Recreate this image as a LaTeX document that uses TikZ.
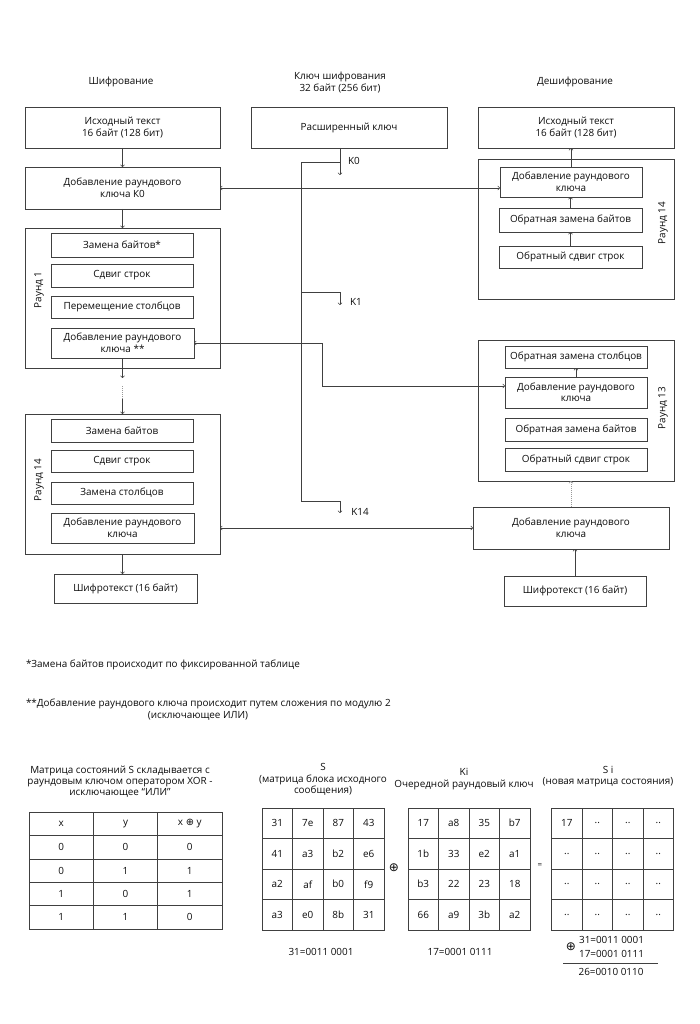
\documentclass[tikz,border=0pt]{standalone}
\usepackage{fontspec}
\setmainfont{Open Sans}
\newfontfamily\symf{DejaVu Sans}
\newcommand\oplusS{{\symf ⊕}}
\usetikzlibrary{arrows.meta,calc}
\begin{document}
\begin{tikzpicture}[x=1pt,y=-1pt,
  every node/.style={font=\fontsize{9.9}{11.5}\selectfont, text=black!95, inner sep=0pt, outer sep=0pt},
  box/.style={draw=black!75, line width=0.6pt, align=center},
  wh/.style 2 args={minimum width=#1pt, minimum height=#2pt},
  ln/.style={draw=black!75, line width=0.6pt},
  arr/.style={ln, -{To[length=2.5pt,width=4.5pt]}},
  darr/.style={ln, {To[length=2.5pt,width=4.5pt]}-{To[length=2.5pt,width=4.5pt]}},
  dots/.style={draw=black!40, line width=0.6pt, dash pattern=on 1pt off 1pt},
  tcell/.style={draw=black!75, line width=0.6pt, minimum width=64.3pt, minimum height=23.4pt},
  mcell/.style={draw=black!75, line width=0.6pt, minimum width=30.5pt, minimum height=30.5pt},
  rlab/.style={rotate=90}
]
\useasboundingbox (0,0) rectangle (699,1024);
\fill[white] (0,0) rectangle (699,1024);

% titles
\node (tEnc) at (121,82) {Шифрование};
\node[align=center] (tKey) at (340,82.5) {Ключ шифрования\\32 байт (256 бит)};
\node (tDec) at (575,82) {Дешифрование};

% ---------- encryption ----------
\node[box, wh={195}{41}] (src) at (122.5,127.5) {Исходный текст\\16 байт (128 бит)};
\node[box, wh={195}{42}] (addk0) at (122.5,188) {Добавление раундового\\ключа К0};
\node[box, wh={195}{140}] (r1) at (122.5,298) {};
\node[box, wh={142}{24}] (r1a) at (122,245) {Замена байтов*};
\node[box, wh={142}{23}] (r1b) at (122,275.5) {Сдвиг строк};
\node[box, wh={142}{22}] (r1c) at (122,307) {Перемещение столбцов};
\node[box, wh={143}{30}] (r1d) at (122.5,343) {Добавление раундового\\ключа **};
\node[rlab] (r1l) at (39,290) {Раунд 1};

\draw[arr] (src.south) -- (addk0.north);
\draw[arr] (addk0.south) -- (r1.north);
\coordinate (g1) at (122.5,378);
\coordinate (g2) at (122.5,386);
\coordinate (g3) at (122.5,399);
\draw[arr] (r1d.south) -- (g1);
\draw[dots] (g2) -- (g3);

\node[box, wh={195}{140}] (r14) at (122.5,484) {};
\node[box, wh={142}{23}] (r14a) at (122,430.5) {Замена байтов};
\node[box, wh={142}{22}] (r14b) at (122,461) {Сдвиг строк};
\node[box, wh={142}{22}] (r14c) at (122,493) {Замена столбцов};
\node[box, wh={143}{30}] (r14d) at (122.5,528) {Добавление раундового\\ключа};
\node[rlab] (r14l) at (39,480) {Раунд 14};
\draw[arr] (g3) -- (r14.north);

\node[box, wh={143}{29}] (cL) at (125.5,588.5) {Шифротекст (16 байт)};
\draw[arr] (r14.south) -- (r14.south |- cL.north);

% ---------- key ----------
\node[box, wh={196}{41}] (key) at (349,127.5) {Расширенный ключ};
\coordinate (k0s) at (340,148);
\coordinate (k0e) at (340,175);
\coordinate (kj) at (340,162);
\coordinate (kc) at (301,162);
\coordinate (k1s) at (301,292);
\coordinate (k1e) at (340,305);
\coordinate (k14s) at (301,501);
\coordinate (k14e) at (340,513);
\draw[arr] (k0s) -- (k0e);
\draw[arr] (kj) -- (kc) -- (k14s) -| (k14e);
\draw[arr] (k1s) -| (k1e);
\node (lk0) at (354,161) {K0};
\node (lk1) at (356,302) {K1};
\node (lk14) at (360,512) {K14};

% ---------- decryption ----------
\node[box, wh={196}{41}] (dsrc) at (576,127.5) {Исходный текст\\ 16 байт (128 бит)};
\node[box, wh={196}{140}] (d14) at (576,229) {};
\node[box, wh={142}{30}] (d14a) at (571,182) {Добавление раундового\\ключа};
\node[box, wh={143}{24}] (d14b) at (570.5,220) {Обратная замена байтов};
\node[box, wh={143}{22}] (d14c) at (570.5,257) {Обратный сдвиг строк};
\node[rlab] (d14l) at (663,223) {Раунд 14};
\draw[arr] (d14c.north) -- (d14c.north |- d14b.south);
\draw[arr] (d14b.north) -- (d14b.north |- d14a.south);
\draw[arr] (d14a.north) -- (d14a.north |- dsrc.south);

\node[box, wh={196}{141}] (d13) at (576,410.5) {};
\node[box, wh={142}{22}] (d13a) at (576,357) {Обратная замена столбцов};
\node[box, wh={142}{31}] (d13b) at (576,392.5) {Добавление раундового\\ключа};
\node[box, wh={142}{23}] (d13c) at (576,429.5) {Обратная замена байтов};
\node[box, wh={142}{23}] (d13d) at (576,459.5) {Обратный сдвиг строк};
\node[rlab] (d13l) at (663,408) {Раунд 13};
\draw[arr] (d13b.north) -- (d13a.south);

\node[box, wh={196}{42}] (decadd) at (571,528) {Добавление раундового\\ключа};
\draw[dots, -{To[length=2.5pt,width=4.5pt]}] (decadd.north) -- (decadd.north |- d13.south);
\node[box, wh={142}{30}] (cR) at (575,591) {Шифротекст (16 байт)};
\draw[arr] (cR.north) -- (cR.north |- decadd.south);

% ---------- cross connectors ----------
\draw[darr] (addk0.east) -- (addk0.east -| d14a.west);
\coordinate (m1) at (322,343);
\coordinate (m2) at (322,386);
\draw[darr] (r1d.east) -- (m1) -- (m2) -- (m2 -| d13b.west);
\draw[darr] (r14.east |- decadd.west) -- (decadd.west);

% ---------- footnotes ----------
\node[anchor=west] (fn1) at (26,665) {*Замена байтов происходит по фиксированной таблице};
\node[anchor=west] (fn2) at (26,704) {**Добавление раундового ключа происходит путем сложения по модулю 2};
\node (fn3) at (198,716) {(исключающее ИЛИ)};

% ---------- XOR table ----------
\node[align=center, font=\fontsize{9.9}{11}\selectfont] (capX) at (120,782) {Матрица состояний S складывается с\\раундовым ключом оператором XOR -\\исключающее “ИЛИ”};
\foreach \r/\a/\b/\c in {0/x/y/x \oplusS{} y, 1/0/0/0, 2/0/1/1, 3/1/0/1, 4/1/1/0} {
  \node[tcell] (xt-\r-1) at (61.2,{823.7+\r*23.4}) {\a};
  \node[tcell] (xt-\r-2) at (125.5,{823.7+\r*23.4}) {\b};
  \node[tcell] (xt-\r-3) at (189.8,{823.7+\r*23.4}) {\c};
}

% ---------- matrices ----------
\node[align=center] (capS) at (323,779.5) {S\\(матрица блока исходного\\сообщения)};
\node[align=center] (capK) at (464,779) {Ki\\Очередной раундовый ключ};
\node[align=center] (capSi) at (608,776.5) {S i\\(новая матрица состояния)};

\foreach \r/\row in {1/{31,7e,87,43}, 2/{41,a3,b2,e6}, 3/{a2,af,b0,f9}, 4/{a3,e0,8b,31}} {
  \foreach \v [count=\c] in \row {
    \node[mcell] (s-\r-\c) at ({262+30.5*(\c-0.5)},{808+30.5*(\r-0.5)}) {\v};
  }
}
\foreach \r/\row in {1/{17,a8,35,b7}, 2/{1b,33,e2,a1}, 3/{b3,22,23,18}, 4/{66,a9,3b,a2}} {
  \foreach \v [count=\c] in \row {
    \node[mcell] (k-\r-\c) at ({408+30.5*(\c-0.5)},{808+30.5*(\r-0.5)}) {\v};
  }
}
\foreach \r/\row in {1/{17,..,..,..}, 2/{..,..,..,..}, 3/{..,..,..,..}, 4/{..,..,..,..}} {
  \foreach \v [count=\c] in \row {
    \node[mcell] (si-\r-\c) at ({551.5+30.5*(\c-0.5)},{808+30.5*(\r-0.5)}) {\v};
  }
}
\node[font=\symf\fontsize{12}{12}\selectfont] (pl) at (394,868) {⊕};
\node[font=\fontsize{8}{8}\selectfont] (eq) at (540,866) {=};

\node (b1) at (321,952) {31=0011 0001};
\node (b2) at (460,952) {17=0001 0111};

\node (c1) at (611.5,940) {31=0011 0001};
\node (c2) at (611.5,954) {17=0001 0111};
\node[font=\symf\fontsize{12}{12}\selectfont] (cp) at (571,947) {⊕};
\coordinate (ul1) at (563,963);
\coordinate (ul2) at (658,963);
\draw[ln] (ul1) -- (ul2);
\node (c3) at (611,972) {26=0010 0110};
\end{tikzpicture}
\end{document}
